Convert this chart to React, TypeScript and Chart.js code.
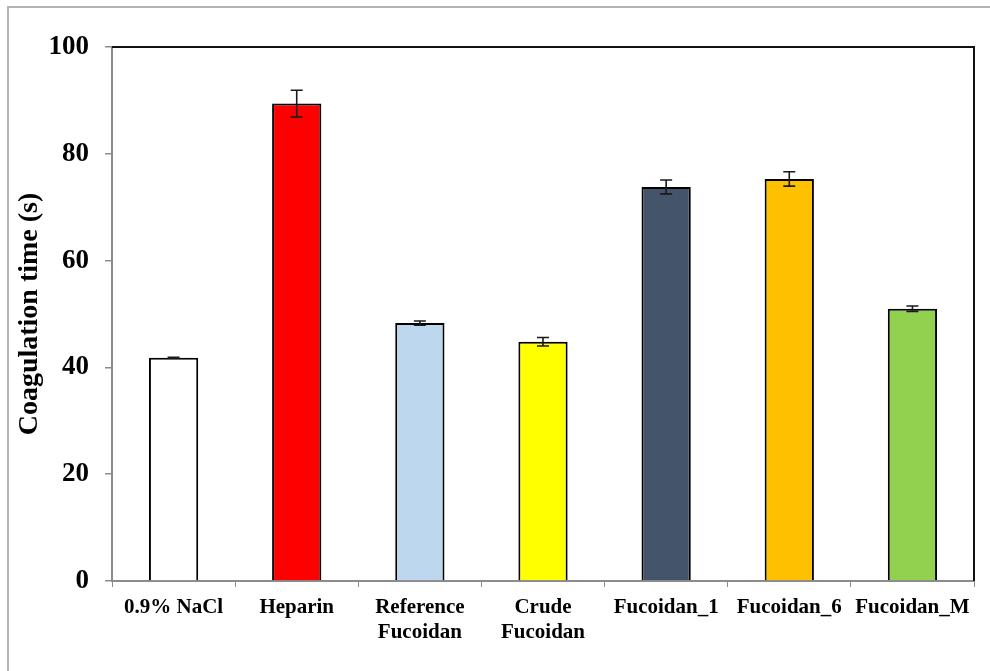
import React, { useEffect, useRef } from "react";
import { Chart, registerables } from "chart.js";

Chart.register(...registerables);

const categories: (string | string[])[] = [
  "0.9% NaCl",
  "Heparin",
  ["Reference", "Fucoidan"],
  ["Crude", "Fucoidan"],
  "Fucoidan_1",
  "Fucoidan_6",
  "Fucoidan_M",
];
const coagulationTime = [41.8, 89.4, 48.3, 44.8, 73.8, 75.3, 51.0];
const errorSD = [0.1, 2.5, 0.4, 0.8, 1.3, 1.35, 0.5];
const barColors = ["#FFFFFF", "#FF0000", "#BDD7EE", "#FFFF00", "#44546A", "#FFC000", "#92D050"];
const yTicks = [0, 20, 40, 60, 80, 100];

const FONT = "'Liberation Serif', 'Times New Roman', serif";

// Error bars with caps, drawn from the same data through the scales
const errorBarPlugin = {
  id: "errorBars",
  afterDatasetsDraw(chart: any) {
    const { ctx } = chart;
    const meta = chart.getDatasetMeta(0);
    const y = chart.scales.y;
    ctx.save();
    ctx.strokeStyle = "#1a1a1a";
    ctx.lineWidth = 1.6;
    meta.data.forEach((bar: any, i: number) => {
      const v = coagulationTime[i];
      const e = errorSD[i];
      const x = bar.x;
      const yTop = y.getPixelForValue(v + e);
      const yBot = y.getPixelForValue(v - e);
      const cap = 6;
      ctx.beginPath();
      ctx.moveTo(x, yTop);
      ctx.lineTo(x, yBot);
      ctx.moveTo(x - cap, yTop);
      ctx.lineTo(x + cap, yTop);
      ctx.moveTo(x - cap, yBot);
      ctx.lineTo(x + cap, yBot);
      ctx.stroke();
    });
    ctx.restore();
  },
};

// Top and right edges of the plot frame
const framePlugin = {
  id: "plotFrame",
  afterDraw(chart: any) {
    const { ctx, chartArea } = chart;
    ctx.save();
    ctx.strokeStyle = "#111111";
    ctx.lineWidth = 2;
    ctx.beginPath();
    ctx.moveTo(chartArea.left, chartArea.top);
    ctx.lineTo(chartArea.right, chartArea.top);
    ctx.lineTo(chartArea.right, chartArea.bottom);
    ctx.stroke();
    ctx.restore();
  },
};

export default function App() {
  const canvasRef = useRef<HTMLCanvasElement>(null);

  useEffect(() => {
    if (!canvasRef.current) return;
    const chart = new Chart(canvasRef.current, {
      type: "bar",
      data: {
        labels: categories,
        datasets: [
          {
            data: coagulationTime,
            backgroundColor: barColors,
            borderColor: "#000000",
            borderWidth: 2,
            barPercentage: 0.4,
            categoryPercentage: 1,
          },
        ],
      },
      options: {
        animation: false,
        responsive: false,
        maintainAspectRatio: false,
        layout: { padding: { left: 0, right: 16, top: 47, bottom: 0 } },
        plugins: {
          legend: { display: false },
          tooltip: { enabled: false },
        },
        scales: {
          x: {
            grid: {
              display: true,
              drawOnChartArea: false,
              drawTicks: true,
              tickLength: 6,
              color: "#8c8c8c",
              lineWidth: 1,
            },
            border: { display: true, color: "#8c8c8c", width: 2 },
            ticks: {
              autoSkip: false,
              maxRotation: 0,
              minRotation: 0,
              padding: 8,
              color: "#000000",
              font: { family: FONT, size: 21, weight: "bold", lineHeight: 1.18 },
            },
            afterFit(scale: any) {
              scale.height = 90;
            },
          },
          y: {
            min: 0,
            max: 100,
            afterBuildTicks(scale: any) {
              scale.ticks = yTicks.map((v) => ({ value: v }));
            },
            grid: {
              display: true,
              drawOnChartArea: false,
              drawTicks: true,
              tickLength: 7,
              color: "#8c8c8c",
              lineWidth: 1.5,
            },
            border: { display: true, color: "#8c8c8c", width: 2 },
            ticks: {
              padding: 16,
              color: "#000000",
              font: { family: FONT, size: 27, weight: "bold" },
            },
            title: {
              display: true,
              text: "Coagulation time (s)",
              color: "#000000",
              padding: { top: 13, bottom: 0 },
              font: { family: FONT, size: 28, weight: "bold", lineHeight: 1.2 },
            },
            afterFit(scale: any) {
              scale.width = 112;
            },
          },
        },
      },
      plugins: [errorBarPlugin, framePlugin],
    });
    return () => chart.destroy();
  }, []);

  return (
    <>
      <div
        style={{
          position: "fixed",
          left: 7,
          top: 6,
          width: 1000,
          height: 700,
          borderLeft: "2px solid #b4b4b4",
          borderTop: "2px solid #b4b4b4",
          boxSizing: "border-box",
        }}
      />
      <canvas
        ref={canvasRef}
        width={990}
        height={671}
        style={{ position: "fixed", left: 0, top: 0, width: 990, height: 671 }}
      />
    </>
  );
}
